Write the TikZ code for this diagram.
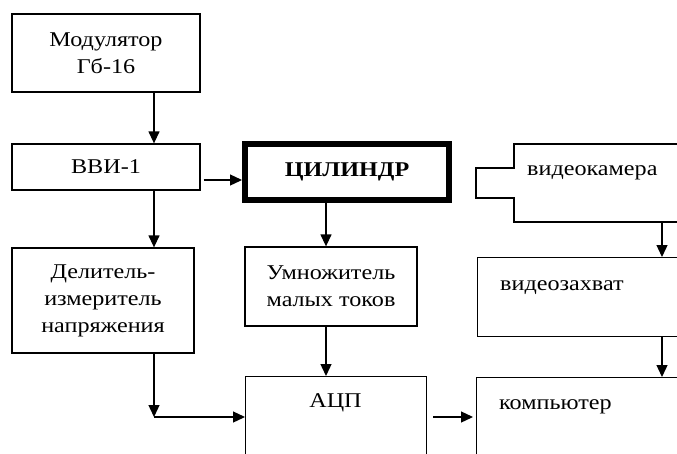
\documentclass[tikz,border=0pt]{standalone}
\usepackage{fontspec}
\setmainfont{Liberation Serif}[FakeStretch=1.15]
\usetikzlibrary{arrows.meta}
\begin{document}
\begin{tikzpicture}[x=1pt,y=-1pt,
  box/.style={draw, line width=1.3pt, inner sep=0pt, align=center,
    font=\fontsize{21}{27}\selectfont},
  lbl/.style={inner sep=0pt, font=\fontsize{21}{27}\selectfont},
  arr/.style={line width=1.3pt, -{Triangle[width=11pt,length=12pt]}}]
\clip (0,0) rectangle (677,453);
\fill[white] (0,0) rectangle (677,453);
% boxes
\node[box, minimum width=188, minimum height=78] (mod) at (106,53) {Модулятор\\Гб-16};
\node[box, minimum width=188, minimum height=46] (vvi) at (106,167) {ВВИ-1};
\node[box, line width=6pt, minimum width=204, minimum height=56,
  font=\fontsize{21}{27}\selectfont\bfseries] (cyl) at (347,172) {ЦИЛИНДР};
\node[box, minimum width=182, minimum height=105] (del) at (103,300.5) {Делитель-\\измеритель\\напряжения};
\node[box, minimum width=172, minimum height=79] (mul) at (331,286.5) {Умножитель\\малых токов};
\node[box, minimum width=181, minimum height=130, anchor=north west] (adc) at (245,376) {};
\node[lbl] (adct) at (335.5,403) {АЦП};
% video camera
\draw[line width=1.3pt] (700,144) -- (514,144) -- (514,168) -- (476,168) -- (476,198)
  -- (514,198) -- (514,222) -- (700,222);
\coordinate (camb) at (662,222);
\node[lbl, anchor=west] (camt) at (527,173) {видеокамера};
\node[box, minimum width=230, minimum height=79, anchor=north west] (cap) at (477,257) {};
\node[lbl, anchor=west] (capt) at (500,288) {видеозахват};
\node[box, minimum width=230, minimum height=130, anchor=north west] (comp) at (476,377) {};
\node[lbl, anchor=west] (compt) at (499,407) {компьютер};
% helper coordinates
\coordinate (xa) at (154,0);
\coordinate (xb) at (326,0);
\coordinate (xc) at (662,0);
\coordinate (ya) at (0,417);
\coordinate (yb) at (0,180);
% connectors
\draw[arr] (mod.south -| xa) -- (vvi.north -| xa);
\draw[arr] (vvi.south -| xa) -- (del.north -| xa);
\draw[arr] ([shift={(3,0)}]vvi.east |- yb) -- (cyl.west |- yb);
\draw[arr] (cyl.south -| xb) -- (mul.north -| xb);
\draw[arr] (mul.south -| xb) -- (adc.north -| xb);
\draw[arr] (del.south -| xa) -- (xa |- ya);
\draw[arr] (xa |- ya) -- (adc.west |- ya);
\draw[arr] ([shift={(6,0)}]adc.east |- ya) -- ([shift={(-3,0)}]comp.west |- ya);
\draw[arr] (camb) -- (cap.north -| xc);
\draw[arr] (cap.south -| xc) -- (comp.north -| xc);
\end{tikzpicture}
\end{document}
